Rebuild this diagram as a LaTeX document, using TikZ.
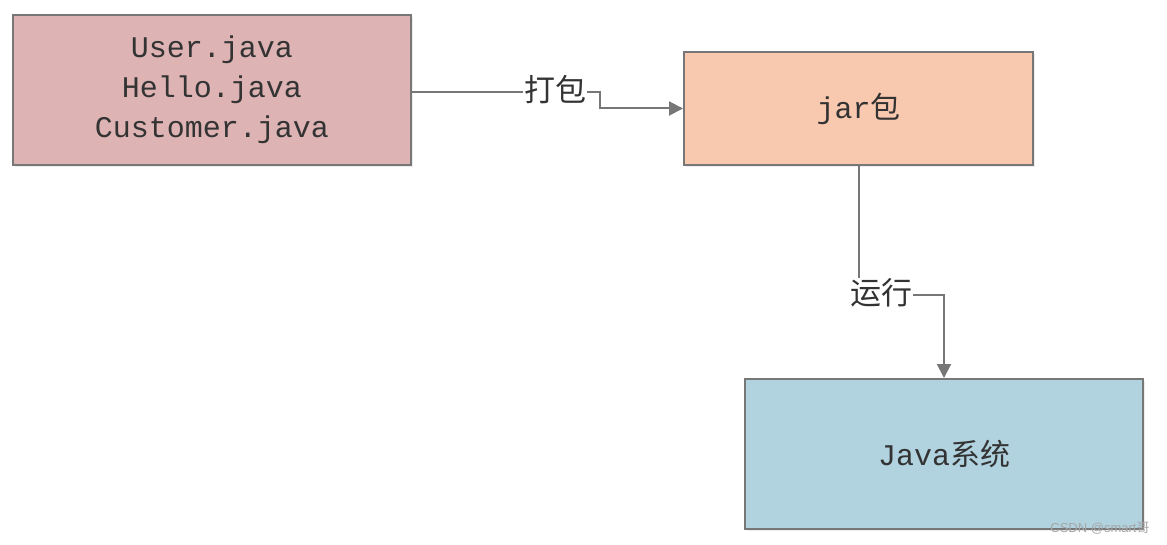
\documentclass[tikz,border=0pt]{standalone}
\usepackage{fontspec}
\setmainfont{Liberation Mono}
\newfontfamily\cjk{Noto Sans CJK SC}
\newfontfamily\wmfont{Liberation Sans}
\usetikzlibrary{arrows.meta,shadows}
\definecolor{edgec}{HTML}{777777}
\definecolor{txtc}{HTML}{333333}
\definecolor{pinkc}{HTML}{DDB3B3}
\definecolor{peachc}{HTML}{F9C9AF}
\definecolor{bluec}{HTML}{B1D3E0}
\tikzset{
  box/.style={draw=edgec, line width=2pt, text=txtc, align=center,
    font=\fontsize{30}{40}\selectfont,
    drop shadow={opacity=0.15, shadow xshift=2pt, shadow yshift=-2pt}},
  conn/.style={draw=edgec, line width=2pt, -{Triangle[length=14pt,width=14pt]}},
  lab/.style={fill=white, text=txtc, inner sep=1pt, font=\cjk\fontsize{31}{34}\selectfont}
}
\begin{document}
\begin{tikzpicture}[x=1pt,y=-1pt]
\useasboundingbox[fill=white] (0,0) rectangle (1167,545);
\node[box, fill=pinkc, minimum width=398pt, minimum height=150pt] (src) at (212,90)
  {\raisebox{-2pt}{\parbox{380pt}{\centering User.java\\Hello.java\\Customer.java}}};
\node[box, fill=peachc, minimum width=349pt, minimum height=113pt] (jar) at (858.5,108.5)
  {jar{\cjk 包}};
\node[box, fill=bluec, minimum width=398pt, minimum height=150pt] (sys) at (944,454)
  {Java{\cjk 系统}};
\coordinate (k1) at (600,92);
\coordinate (k2) at (858.5,295);
\coordinate (k3) at (944,295);
\draw[conn] (src.east |- k1) -- (k1) |- (jar.west);
\draw[conn] (jar.south) -- (k2) -- (k3) -- (sys.north);
\node[lab] (lpack) at (555,90) {打包};
\node[lab] (lrun) at (881,293) {运行};
\node[text=gray!70, font=\wmfont\fontsize{13}{13}\selectfont, inner sep=0pt] (wm) at (1100,528)
  {CSDN @smart{\cjk 哥}};
\end{tikzpicture}
\end{document}
